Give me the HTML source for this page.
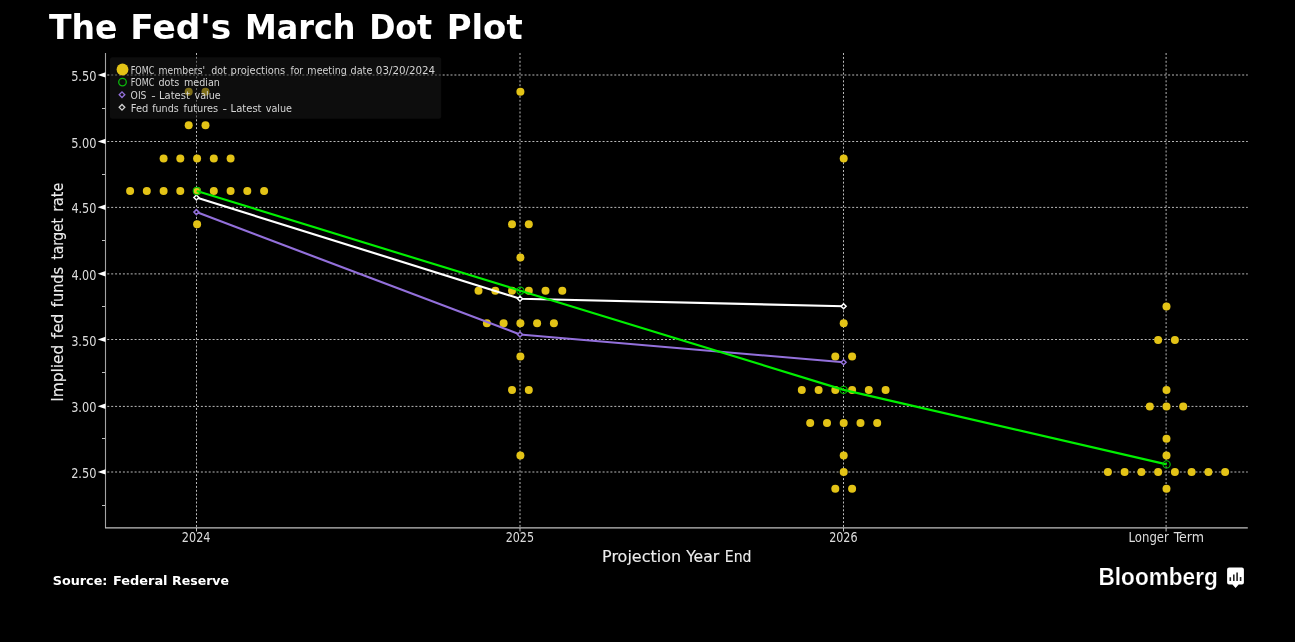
<!DOCTYPE html>
<html lang="en"><head><meta charset="utf-8"><title>The Fed's March Dot Plot</title>
<style>html,body{margin:0;padding:0;background:#000;overflow:hidden}svg{display:block}text{white-space:pre}.t{font-family:"DejaVu Sans","Liberation Sans",sans-serif;font-weight:bold}.c{font-family:"DejaVu Sans Condensed","DejaVu Sans","Liberation Sans",sans-serif}.b{font-family:"Liberation Sans","DejaVu Sans",sans-serif;font-weight:bold}</style></head><body>
<svg width="1295" height="642" viewBox="0 0 1295 642">
<rect width="1295" height="642" fill="#000"/>
<text class="t" y="39.2" font-size="34.5" fill="#fff"><tspan x="49.00" textLength="68.49" lengthAdjust="spacingAndGlyphs">The</tspan> <tspan x="130.30" textLength="101.05" lengthAdjust="spacingAndGlyphs">Fed's</tspan> <tspan x="244.93" textLength="110.67" lengthAdjust="spacingAndGlyphs">March</tspan> <tspan x="369.16" textLength="63.01" lengthAdjust="spacingAndGlyphs">Dot</tspan> <tspan x="446.65" textLength="75.96" lengthAdjust="spacingAndGlyphs">Plot</tspan></text>
<g stroke="#b8b8b8" stroke-width="1" stroke-dasharray="2 1.9" fill="none">
<path d="M106 75.0H1247.8" stroke-dashoffset="2.6"/>
<path d="M106 141.5H1247.8" stroke-dashoffset="2.6"/>
<path d="M106 207.4H1247.8" stroke-dashoffset="2.6"/>
<path d="M106 273.9H1247.8" stroke-dashoffset="2.6"/>
<path d="M106 339.5H1247.8" stroke-dashoffset="2.6"/>
<path d="M106 406.4H1247.8" stroke-dashoffset="2.6"/>
<path d="M106 472.0H1247.8" stroke-dashoffset="2.6"/>
<path d="M196.5 53V527"/>
<path d="M520.0 53V527"/>
<path d="M843.5 53V527"/>
<path d="M1166.1 53V527"/>
</g>
<g stroke="#c0c0c0" fill="none">
<path d="M105.5 53V528" stroke-width="1.1" stroke="#a4a4a4"/><path d="M105 527.8H1247.8" stroke-width="1.25" stroke="#c0c0c0"/>
<path d="M102 108.5H105M102 174.5H105M102 240.5H105M102 306.5H105M102 372.5H105M102 438.5H105M102 505.5H105M196.5 528V531.5M520.0 528V531.5M843.5 528V531.5M1166.1 528V531.5" stroke-width="1"/>
</g>
<g fill="#fff">
<path d="M97.6 74.9L105.5 72.2V77.6Z"/>
<path d="M97.6 141.4L105.5 138.7V144.1Z"/>
<path d="M97.6 207.3L105.5 204.6V210.0Z"/>
<path d="M97.6 273.8L105.5 271.1V276.5Z"/>
<path d="M97.6 339.4L105.5 336.7V342.1Z"/>
<path d="M97.6 406.3L105.5 403.6V409.0Z"/>
<path d="M97.6 471.9L105.5 469.2V474.6Z"/>
</g>
<text class="c" y="81.0" font-size="13.5" fill="#dcdcdc"><tspan x="71.14" textLength="25.32" lengthAdjust="spacingAndGlyphs">5.50</tspan></text>
<text class="c" y="147.5" font-size="13.5" fill="#dcdcdc"><tspan x="71.14" textLength="25.32" lengthAdjust="spacingAndGlyphs">5.00</tspan></text>
<text class="c" y="213.4" font-size="13.5" fill="#dcdcdc"><tspan x="71.40" textLength="25.05" lengthAdjust="spacingAndGlyphs">4.50</tspan></text>
<text class="c" y="279.9" font-size="13.5" fill="#dcdcdc"><tspan x="71.40" textLength="25.05" lengthAdjust="spacingAndGlyphs">4.00</tspan></text>
<text class="c" y="345.5" font-size="13.5" fill="#dcdcdc"><tspan x="71.14" textLength="25.32" lengthAdjust="spacingAndGlyphs">3.50</tspan></text>
<text class="c" y="412.4" font-size="13.5" fill="#dcdcdc"><tspan x="71.14" textLength="25.32" lengthAdjust="spacingAndGlyphs">3.00</tspan></text>
<text class="c" y="478.0" font-size="13.5" fill="#dcdcdc"><tspan x="71.14" textLength="25.32" lengthAdjust="spacingAndGlyphs">2.50</tspan></text>
<g fill="#e3c316">
<circle cx="188.7" cy="91.8" r="4"/>
<circle cx="205.5" cy="91.8" r="4"/>
<circle cx="188.7" cy="125.3" r="4"/>
<circle cx="205.5" cy="125.3" r="4"/>
<circle cx="163.6" cy="158.6" r="4"/>
<circle cx="180.3" cy="158.6" r="4"/>
<circle cx="197.1" cy="158.6" r="4"/>
<circle cx="213.8" cy="158.6" r="4"/>
<circle cx="230.6" cy="158.6" r="4"/>
<circle cx="130.1" cy="191.0" r="4"/>
<circle cx="146.8" cy="191.0" r="4"/>
<circle cx="163.6" cy="191.0" r="4"/>
<circle cx="180.3" cy="191.0" r="4"/>
<circle cx="197.1" cy="191.0" r="4"/>
<circle cx="213.8" cy="191.0" r="4"/>
<circle cx="230.6" cy="191.0" r="4"/>
<circle cx="247.3" cy="191.0" r="4"/>
<circle cx="264.1" cy="191.0" r="4"/>
<circle cx="197.1" cy="224.3" r="4"/>
<circle cx="520.4" cy="91.8" r="4"/>
<circle cx="512.0" cy="224.3" r="4"/>
<circle cx="528.8" cy="224.3" r="4"/>
<circle cx="520.4" cy="257.6" r="4"/>
<circle cx="478.5" cy="290.7" r="4"/>
<circle cx="495.3" cy="290.7" r="4"/>
<circle cx="512.0" cy="290.7" r="4"/>
<circle cx="528.8" cy="290.7" r="4"/>
<circle cx="545.5" cy="290.7" r="4"/>
<circle cx="562.3" cy="290.7" r="4"/>
<circle cx="486.9" cy="323.3" r="4"/>
<circle cx="503.6" cy="323.3" r="4"/>
<circle cx="520.4" cy="323.3" r="4"/>
<circle cx="537.1" cy="323.3" r="4"/>
<circle cx="553.9" cy="323.3" r="4"/>
<circle cx="520.4" cy="356.6" r="4"/>
<circle cx="512.0" cy="389.9" r="4"/>
<circle cx="528.8" cy="389.9" r="4"/>
<circle cx="520.4" cy="455.6" r="4"/>
<circle cx="843.7" cy="158.6" r="4"/>
<circle cx="843.7" cy="323.3" r="4"/>
<circle cx="835.3" cy="356.6" r="4"/>
<circle cx="852.1" cy="356.6" r="4"/>
<circle cx="801.8" cy="389.9" r="4"/>
<circle cx="818.6" cy="389.9" r="4"/>
<circle cx="835.3" cy="389.9" r="4"/>
<circle cx="852.1" cy="389.9" r="4"/>
<circle cx="868.8" cy="389.9" r="4"/>
<circle cx="885.6" cy="389.9" r="4"/>
<circle cx="810.2" cy="423.1" r="4"/>
<circle cx="827.0" cy="423.1" r="4"/>
<circle cx="843.7" cy="423.1" r="4"/>
<circle cx="860.5" cy="423.1" r="4"/>
<circle cx="877.2" cy="423.1" r="4"/>
<circle cx="843.7" cy="455.6" r="4"/>
<circle cx="843.7" cy="472.1" r="4"/>
<circle cx="835.3" cy="488.8" r="4"/>
<circle cx="852.1" cy="488.8" r="4"/>
<circle cx="1166.5" cy="306.6" r="4"/>
<circle cx="1158.1" cy="339.9" r="4"/>
<circle cx="1174.9" cy="339.9" r="4"/>
<circle cx="1166.5" cy="389.9" r="4"/>
<circle cx="1149.8" cy="406.6" r="4"/>
<circle cx="1166.5" cy="406.6" r="4"/>
<circle cx="1183.2" cy="406.6" r="4"/>
<circle cx="1166.5" cy="438.8" r="4"/>
<circle cx="1166.5" cy="455.6" r="4"/>
<circle cx="1107.9" cy="472.1" r="4"/>
<circle cx="1124.6" cy="472.1" r="4"/>
<circle cx="1141.4" cy="472.1" r="4"/>
<circle cx="1158.1" cy="472.1" r="4"/>
<circle cx="1174.9" cy="472.1" r="4"/>
<circle cx="1191.6" cy="472.1" r="4"/>
<circle cx="1208.4" cy="472.1" r="4"/>
<circle cx="1225.1" cy="472.1" r="4"/>
<circle cx="1166.5" cy="488.8" r="4"/>
</g>
<polyline points="196.4,212.1 520.0,334.5 843.6,362.3" fill="none" stroke="#9370db" stroke-width="2.15" stroke-linejoin="round"/>
<polyline points="196.4,197.5 520.0,298.7 843.6,306.2" fill="none" stroke="#fff" stroke-width="2.15" stroke-linejoin="round"/>
<polyline points="196.8,191.0 520.4,290.7 843.6,389.9 1166.6,464.4" fill="none" stroke="#00f000" stroke-width="2.15" stroke-linejoin="round"/>
<path d="M193.9 212.1L196.4 209.6L198.9 212.1L196.4 214.6Z" fill="#000" stroke="#9370db" stroke-width="1.5"/>
<path d="M517.5 334.5L520.0 332.0L522.5 334.5L520.0 337.0Z" fill="#000" stroke="#9370db" stroke-width="1.5"/>
<path d="M841.1 362.3L843.6 359.8L846.1 362.3L843.6 364.8Z" fill="#000" stroke="#9370db" stroke-width="1.5"/>
<path d="M193.9 197.5L196.4 195.0L198.9 197.5L196.4 200.0Z" fill="#000" stroke="#fff" stroke-width="1.5"/>
<path d="M517.5 298.7L520.0 296.2L522.5 298.7L520.0 301.2Z" fill="#000" stroke="#fff" stroke-width="1.5"/>
<path d="M841.1 306.2L843.6 303.7L846.1 306.2L843.6 308.7Z" fill="#000" stroke="#fff" stroke-width="1.5"/>
<circle cx="196.8" cy="191.0" r="3.6" fill="none" stroke="#00c000" stroke-width="1.1"/>
<circle cx="520.4" cy="290.7" r="3.6" fill="none" stroke="#00c000" stroke-width="1.1"/>
<circle cx="843.6" cy="389.9" r="3.6" fill="none" stroke="#00c000" stroke-width="1.1"/>
<circle cx="1166.6" cy="464.4" r="3.6" fill="none" stroke="#00c000" stroke-width="1.1"/>
<rect x="110" y="57.2" width="331.2" height="61.6" rx="2.5" fill="#1a1a1a" fill-opacity="0.5"/>
<circle cx="122.5" cy="69.5" r="5.9" fill="#e3c316"/>
<circle cx="122.5" cy="82.1" r="3.8" fill="none" stroke="#0cb80c" stroke-width="1.3"/>
<path d="M119.2 94.7L122.0 91.9L124.8 94.7L122.0 97.5Z" fill="none" stroke="#9370db" stroke-width="1.3"/>
<path d="M119.2 107.3L122.0 104.5L124.8 107.3L122.0 110.1Z" fill="none" stroke="#d0d0d0" stroke-width="1.3"/>
<text class="c" y="73.7" font-size="10.5" fill="#d4d4d4"><tspan x="130.68" textLength="23.65" lengthAdjust="spacingAndGlyphs">FOMC</tspan> <tspan x="158.58" textLength="46.41" lengthAdjust="spacingAndGlyphs">members'</tspan> <tspan x="211.28" textLength="15.55" lengthAdjust="spacingAndGlyphs">dot</tspan> <tspan x="230.62" textLength="54.61" lengthAdjust="spacingAndGlyphs">projections</tspan> <tspan x="290.39" textLength="12.80" lengthAdjust="spacingAndGlyphs">for</tspan> <tspan x="307.35" textLength="39.51" lengthAdjust="spacingAndGlyphs">meeting</tspan> <tspan x="350.47" textLength="21.90" lengthAdjust="spacingAndGlyphs">date</tspan> <tspan x="375.83" textLength="59.36" lengthAdjust="spacingAndGlyphs">03/20/2024</tspan></text>
<text class="c" y="86.3" font-size="10.5" fill="#d4d4d4"><tspan x="130.68" textLength="23.65" lengthAdjust="spacingAndGlyphs">FOMC</tspan> <tspan x="158.47" textLength="20.74" lengthAdjust="spacingAndGlyphs">dots</tspan> <tspan x="183.95" textLength="36.00" lengthAdjust="spacingAndGlyphs">median</tspan></text>
<text class="c" y="99.1" font-size="10.5" fill="#d4d4d4"><tspan x="130.58" textLength="15.94" lengthAdjust="spacingAndGlyphs">OIS</tspan> <tspan x="151.16" textLength="4.42" lengthAdjust="spacingAndGlyphs">-</tspan> <tspan x="159.01" textLength="30.93" lengthAdjust="spacingAndGlyphs">Latest</tspan> <tspan x="194.49" textLength="26.18" lengthAdjust="spacingAndGlyphs">value</tspan></text>
<text class="c" y="111.9" font-size="10.5" fill="#d4d4d4"><tspan x="130.82" textLength="17.48" lengthAdjust="spacingAndGlyphs">Fed</tspan> <tspan x="152.19" textLength="26.52" lengthAdjust="spacingAndGlyphs">funds</tspan> <tspan x="183.58" textLength="34.54" lengthAdjust="spacingAndGlyphs">futures</tspan> <tspan x="222.64" textLength="4.55" lengthAdjust="spacingAndGlyphs">-</tspan> <tspan x="230.61" textLength="30.93" lengthAdjust="spacingAndGlyphs">Latest</tspan> <tspan x="265.69" textLength="26.38" lengthAdjust="spacingAndGlyphs">value</tspan></text>
<text class="c" y="542.1" font-size="13.5" fill="#dcdcdc"><tspan x="181.85" textLength="28.68" lengthAdjust="spacingAndGlyphs">2024</tspan></text>
<text class="c" y="542.1" font-size="13.5" fill="#dcdcdc"><tspan x="505.65" textLength="28.44" lengthAdjust="spacingAndGlyphs">2025</tspan></text>
<text class="c" y="542.1" font-size="13.5" fill="#dcdcdc"><tspan x="829.16" textLength="28.39" lengthAdjust="spacingAndGlyphs">2026</tspan></text>
<text class="c" y="542.1" font-size="13.5" fill="#dcdcdc"><tspan x="1128.56" textLength="40.31" lengthAdjust="spacingAndGlyphs">Longer</tspan> <tspan x="1173.74" textLength="30.29" lengthAdjust="spacingAndGlyphs">Term</tspan></text>
<text class="c" y="561.5" font-size="15.9" fill="#ececec" stroke="#ececec" stroke-width="0.12"><tspan x="602.08" textLength="79.07" lengthAdjust="spacingAndGlyphs">Projection</tspan> <tspan x="686.37" textLength="32.85" lengthAdjust="spacingAndGlyphs">Year</tspan> <tspan x="724.75" textLength="26.72" lengthAdjust="spacingAndGlyphs">End</tspan></text>
<text class="c" y="0" font-size="15.9" fill="#ececec" stroke="#ececec" stroke-width="0.12" transform="translate(62.8 400.3) rotate(-90)"><tspan x="-1.36" textLength="56.95" lengthAdjust="spacingAndGlyphs">Implied</tspan> <tspan x="61.75" textLength="25.06" lengthAdjust="spacingAndGlyphs">fed</tspan> <tspan x="93.18" textLength="40.25" lengthAdjust="spacingAndGlyphs">funds</tspan> <tspan x="140.90" textLength="41.19" lengthAdjust="spacingAndGlyphs">target</tspan> <tspan x="188.53" textLength="29.07" lengthAdjust="spacingAndGlyphs">rate</tspan></text>
<text class="t" y="584.9" font-size="13.1" fill="#fff"><tspan x="52.71" textLength="54.70" lengthAdjust="spacingAndGlyphs">Source:</tspan> <tspan x="112.94" textLength="54.63" lengthAdjust="spacingAndGlyphs">Federal</tspan> <tspan x="172.07" textLength="56.93" lengthAdjust="spacingAndGlyphs">Reserve</tspan></text>
<text class="b" y="585.2" font-size="23.8" fill="#fff" stroke="#000" stroke-width="0.22"><tspan x="1098.54" textLength="119.23" lengthAdjust="spacingAndGlyphs">Bloomberg</tspan></text>
<path d="M1229.1 567.6H1241.9A2 2 0 0 1 1243.9 569.6V582.5A2 2 0 0 1 1241.9 584.5H1238.7L1235.6 588.1L1232.4 584.5H1229.1A2 2 0 0 1 1227.1 582.5V569.6A2 2 0 0 1 1229.1 567.6Z" fill="#fff"/>
<path d="M1229.5 577.2h1.6v3.8h-1.6zM1233 574.4h1.6v6.6h-1.6zM1236.3 572.4h1.6v8.6h-1.6zM1239.8 577h1.6v4h-1.6z" fill="#222"/>
</svg></body></html>
